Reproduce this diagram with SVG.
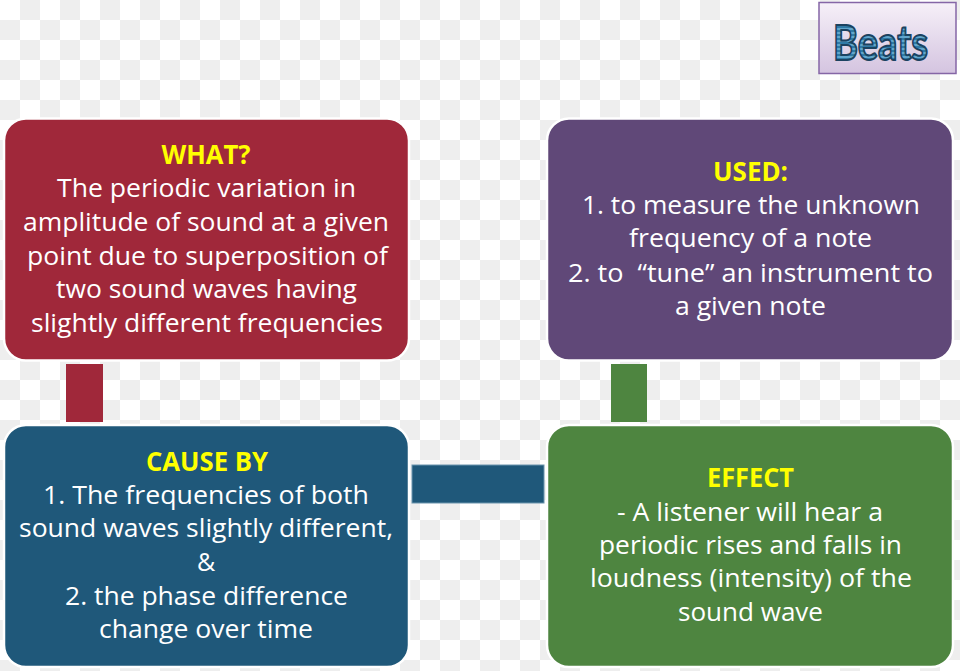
<svg xmlns="http://www.w3.org/2000/svg" width="960" height="671" viewBox="0 0 960 671">
<defs>
<pattern id="checker" patternUnits="userSpaceOnUse" width="40" height="40">
<rect width="40" height="40" fill="#ffffff"/>
<rect x="20" y="0" width="20" height="20" fill="#eeeeee"/>
<rect x="0" y="20" width="20" height="20" fill="#eeeeee"/>
</pattern>
<linearGradient id="titleGrad" x1="0" y1="0" x2="0" y2="1">
<stop offset="0" stop-color="#f6f0f8"/>
<stop offset="1" stop-color="#d4c4e0"/>
</linearGradient>
<pattern id="stripes" patternUnits="userSpaceOnUse" width="8" height="4">
<rect width="8" height="4" fill="#62a6cc"/>
<rect y="2" width="8" height="2" fill="#2f7aa6"/>
</pattern>
</defs>
<style>
.box{stroke:#ffffff;stroke-width:2.5}
.t{font-family:"Open Sans","Liberation Sans",sans-serif;font-size:25px;fill:#ffffff;text-anchor:middle;font-variant-ligatures:none}
.h{font-family:"Open Sans","Liberation Sans",sans-serif;font-size:26px;font-weight:bold;fill:#ffff00;text-anchor:middle}
</style>
<rect width="960" height="671" fill="url(#checker)"/>

<g id="connectors">
<rect x="66" y="364" width="37" height="58" fill="#a0283a"/>
<rect x="611" y="364" width="36" height="58" fill="#4e8540"/>
<rect x="412" y="465" width="132" height="38" fill="#1f587a" stroke="#6a94ad" stroke-width="1"/>
</g>

<g id="title">
<rect x="819" y="2.5" width="137" height="71" fill="url(#titleGrad)" stroke="#8566a6" stroke-width="1.5"/>
<text x="880.5" y="60" font-family="Lato,'Liberation Sans',sans-serif" font-size="47" font-weight="bold" text-anchor="middle" textLength="95" lengthAdjust="spacingAndGlyphs" fill="url(#stripes)" stroke="#1b4260" stroke-width="2">Beats</text>
</g>

<g id="what">
<rect class="box" x="4" y="118.5" width="405" height="242" rx="22" fill="#a0283a"/>
<text class="h" x="206" y="164" textLength="89" lengthAdjust="spacingAndGlyphs">WHAT?</text>
<text class="t" x="206.5" y="197" textLength="299" lengthAdjust="spacingAndGlyphs">The periodic variation in</text>
<text class="t" x="206" y="231" textLength="366" lengthAdjust="spacingAndGlyphs">amplitude of sound at a given</text>
<text class="t" x="207.5" y="265" textLength="361" lengthAdjust="spacingAndGlyphs">point due to superposition of</text>
<text class="t" x="206.5" y="298" textLength="301" lengthAdjust="spacingAndGlyphs">two sound waves having</text>
<text class="t" x="207" y="332" textLength="352" lengthAdjust="spacingAndGlyphs">slightly different frequencies</text>
</g>

<g id="used">
<rect class="box" x="547" y="118.5" width="406" height="242" rx="22" fill="#604878"/>
<text class="h" x="750.5" y="181" textLength="75" lengthAdjust="spacingAndGlyphs">USED:</text>
<text class="t" x="751" y="214" textLength="338" lengthAdjust="spacingAndGlyphs">1. to measure the unknown</text>
<text class="t" x="750.5" y="247" textLength="243" lengthAdjust="spacingAndGlyphs">frequency of a note</text>
<text class="t" x="750.5" y="282" textLength="365" lengthAdjust="spacingAndGlyphs" style="white-space:pre">2. to  “tune” an instrument to</text>
<text class="t" x="750.5" y="315" textLength="151" lengthAdjust="spacingAndGlyphs">a given note</text>
</g>

<g id="cause">
<rect class="box" x="4" y="425" width="405" height="242" rx="22" fill="#1f587a"/>
<text class="h" x="207" y="471" textLength="122" lengthAdjust="spacingAndGlyphs">CAUSE BY</text>
<text class="t" x="206" y="504" textLength="326" lengthAdjust="spacingAndGlyphs">1. The frequencies of both</text>
<text class="t" x="206" y="537" textLength="374" lengthAdjust="spacingAndGlyphs">sound waves slightly different,</text>
<text class="t" x="206" y="571">&amp;</text>
<text class="t" x="206.5" y="605" textLength="283" lengthAdjust="spacingAndGlyphs">2. the phase difference</text>
<text class="t" x="206" y="638" textLength="214" lengthAdjust="spacingAndGlyphs">change over time</text>
</g>

<g id="effect">
<rect class="box" x="547" y="425" width="406" height="242" rx="22" fill="#4e8540"/>
<text class="h" x="750.5" y="487" textLength="87" lengthAdjust="spacingAndGlyphs">EFFECT</text>
<text class="t" x="750" y="521" textLength="266" lengthAdjust="spacingAndGlyphs">- A listener will hear a</text>
<text class="t" x="750.5" y="554" textLength="303" lengthAdjust="spacingAndGlyphs">periodic rises and falls in</text>
<text class="t" x="751" y="587" textLength="322" lengthAdjust="spacingAndGlyphs">loudness (intensity) of the</text>
<text class="t" x="750.5" y="621" textLength="145" lengthAdjust="spacingAndGlyphs">sound wave</text>
</g>
</svg>
